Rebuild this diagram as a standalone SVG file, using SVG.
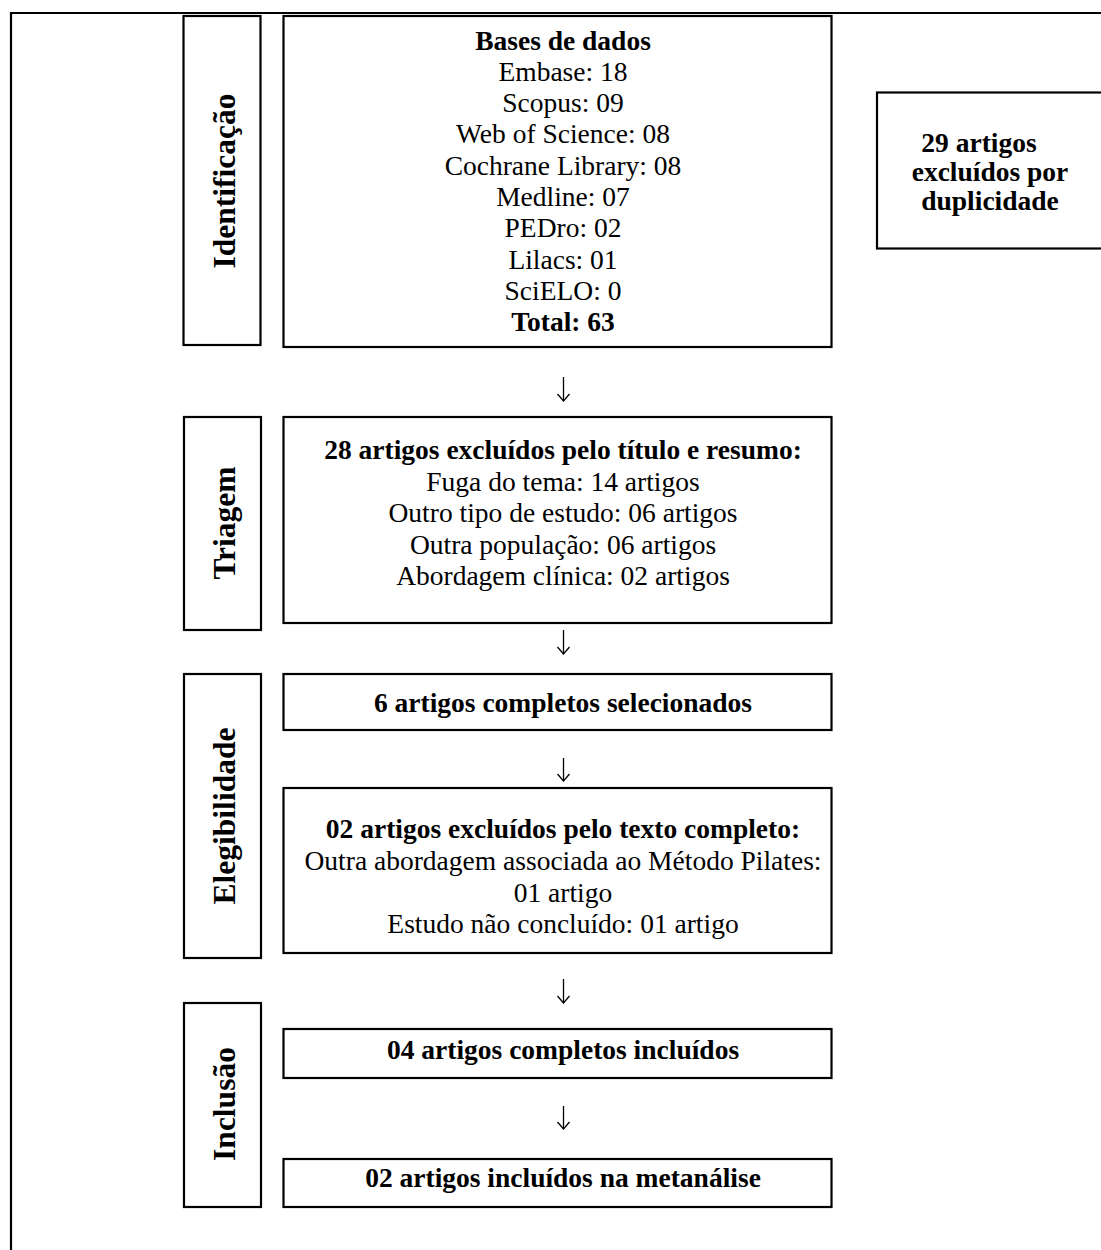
<svg xmlns="http://www.w3.org/2000/svg" width="1101" height="1250" viewBox="0 0 1101 1250">
  <style>
    .box { fill: #fff; stroke: #000; stroke-width: 2.2; }
    .frame { fill: none; stroke: #000; stroke-width: 2.2; }
    .t { font-family: "Liberation Serif", "Times New Roman", serif; font-size: 27.5px; fill: #000; text-anchor: middle; }
    .b { font-weight: bold; }
    .lab { font-family: "Liberation Serif", "Times New Roman", serif; font-size: 31.5px; font-weight: bold; fill: #000; text-anchor: middle; }
    .conn { stroke: #000; stroke-width: 1.3; fill: none; }
  </style>
  <defs>
    <marker id="ah" markerUnits="userSpaceOnUse" viewBox="-9 -8 12 16" markerWidth="12" markerHeight="16" refX="0" refY="0" orient="auto" overflow="visible">
      <path d="M-7,-6 L0,0 L-7,6" fill="none" stroke="#000" stroke-width="1.3"/>
    </marker>
  </defs>
  <rect width="1101" height="1250" fill="#fff"/>
  <path class="frame" d="M11,1260 V13 H1110"/>

  <g id="label-identificacao">
    <rect class="box" x="183.5" y="16" width="77" height="329"/>
    <text class="lab" transform="translate(235,181) rotate(-90)">Identificação</text>
  </g>
  <g id="bases-de-dados">
    <rect class="box" x="283.5" y="16" width="548" height="331"/>
    <text class="t b" x="563" y="50">Bases de dados</text>
    <text class="t" x="563" y="81">Embase: 18</text>
    <text class="t" x="563" y="112">Scopus: 09</text>
    <text class="t" x="563" y="143">Web of Science: 08</text>
    <text class="t" x="563" y="175">Cochrane Library: 08</text>
    <text class="t" x="563" y="206">Medline: 07</text>
    <text class="t" x="563" y="237">PEDro: 02</text>
    <text class="t" x="563" y="269">Lilacs: 01</text>
    <text class="t" x="563" y="300">SciELO: 0</text>
    <text class="t b" x="563" y="331">Total: 63</text>
  </g>
  <g id="duplicados">
    <rect class="box" x="877" y="92.5" width="260" height="156"/>
    <text class="t b" x="979" y="152">29 artigos</text>
    <text class="t b" x="990" y="181">excluídos por</text>
    <text class="t b" x="990" y="210">duplicidade</text>
  </g>

  <g id="label-triagem">
    <rect class="box" x="184" y="417" width="77" height="213"/>
    <text class="lab" transform="translate(235,523) rotate(-90)">Triagem</text>
  </g>
  <g id="triagem">
    <rect class="box" x="283.5" y="417" width="548" height="206"/>
    <text class="t b" x="563" y="459">28 artigos excluídos pelo título e resumo:</text>
    <text class="t" x="563" y="490.5">Fuga do tema: 14 artigos</text>
    <text class="t" x="563" y="522">Outro tipo de estudo: 06 artigos</text>
    <text class="t" x="563" y="553.5">Outra população: 06 artigos</text>
    <text class="t" x="563" y="585">Abordagem clínica: 02 artigos</text>
  </g>

  <g id="label-elegibilidade">
    <rect class="box" x="184" y="674" width="77" height="284"/>
    <text class="lab" transform="translate(235,816) rotate(-90)">Elegibilidade</text>
  </g>
  <g id="selecionados">
    <rect class="box" x="283.5" y="674" width="548" height="56"/>
    <text class="t b" x="563" y="711.5">6 artigos completos selecionados</text>
  </g>
  <g id="excluidos-texto">
    <rect class="box" x="283.5" y="788" width="548" height="165"/>
    <text class="t b" x="563" y="838">02 artigos excluídos pelo texto completo:</text>
    <text class="t" x="563" y="870">Outra abordagem associada ao Método Pilates:</text>
    <text class="t" x="563" y="901.5">01 artigo</text>
    <text class="t" x="563" y="933">Estudo não concluído: 01 artigo</text>
  </g>

  <g id="label-inclusao">
    <rect class="box" x="184" y="1003" width="77" height="204"/>
    <text class="lab" transform="translate(235,1104) rotate(-90)">Inclusão</text>
  </g>
  <g id="incluidos">
    <rect class="box" x="283.5" y="1029" width="548" height="49"/>
    <text class="t b" x="563" y="1059">04 artigos completos incluídos</text>
  </g>
  <g id="metanalise">
    <rect class="box" x="283.5" y="1159" width="548" height="48"/>
    <text class="t b" x="563" y="1186.5">02 artigos incluídos na metanálise</text>
  </g>

  <g id="connectors">
    <line class="conn" x1="563.5" y1="377" x2="563.5" y2="401" marker-end="url(#ah)"/>
    <line class="conn" x1="563.5" y1="630" x2="563.5" y2="654" marker-end="url(#ah)"/>
    <line class="conn" x1="563.5" y1="758" x2="563.5" y2="781" marker-end="url(#ah)"/>
    <line class="conn" x1="563.5" y1="979" x2="563.5" y2="1003" marker-end="url(#ah)"/>
    <line class="conn" x1="563.5" y1="1106" x2="563.5" y2="1129" marker-end="url(#ah)"/>
  </g>
</svg>
